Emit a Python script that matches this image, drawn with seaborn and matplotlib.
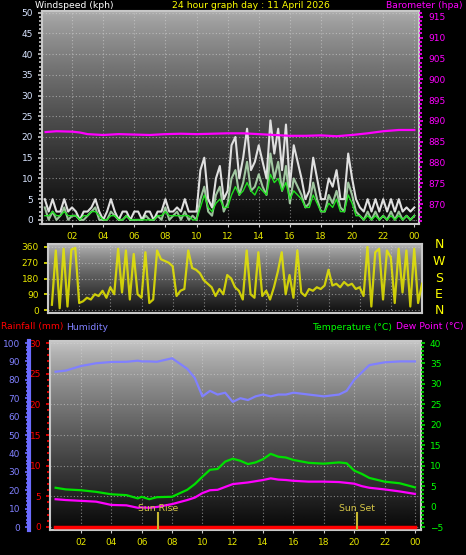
import numpy as np
import matplotlib
matplotlib.use("Agg")
import matplotlib.pyplot as plt
from matplotlib.ticker import MultipleLocator, FixedLocator
import seaborn as sns

# ---- data ----
# wind, every 15 minutes from 00:15 to 24:00
wind_hours = np.arange(1, 97) * 0.25
gust_kph = [5, 2, 5, 2, 2, 5, 2, 3,   2, 0, 2, 2, 3, 5, 2, 0,
            2, 5, 2, 0, 2, 2, 0, 2,   2, 0, 2, 2, 0, 2, 2, 5,
            2, 2, 3, 2, 5, 2, 2, 2,   12, 15, 5, 3, 10, 13, 5, 7,
            18, 20, 10, 15, 22, 12, 14, 18,   14, 10, 24, 16, 22, 12, 23, 8,
            18, 14, 10, 5, 7, 15, 10, 5,   5, 10, 8, 12, 5, 5, 16, 10,
            5, 3, 2, 5, 2, 5, 2, 5,   2, 5, 2, 5, 2, 3, 2, 3]
speed_kph = [3, 0, 2, 0, 1, 3, 0, 1,   1, 0, 0, 1, 2, 3, 0, 0,
             0, 2, 1, 0, 0, 1, 0, 0,   0, 0, 1, 0, 0, 1, 0, 3,
             0, 1, 2, 0, 2, 0, 1, 0,   5, 8, 2, 1, 6, 8, 2, 4,
             10, 12, 6, 9, 14, 7, 8, 11,   8, 6, 16, 10, 14, 7, 13, 4,
             10, 8, 6, 3, 4, 9, 5, 2,   2, 6, 4, 7, 3, 2, 9, 6,
             2, 1, 0, 2, 0, 2, 0, 1,   0, 2, 0, 2, 0, 1, 0, 1]
avg_kph = [1, 1, 2, 1, 1, 2, 1, 1,   1, 0, 1, 1, 2, 2, 1, 0,
           0, 1, 1, 0, 0, 1, 0, 0,   0, 0, 0, 0, 0, 1, 1, 2,
           1, 1, 1, 1, 1, 1, 0, 0,   3, 6, 3, 2, 4, 5, 3, 3,
           6, 8, 6, 7, 9, 7, 6, 8,   7, 6, 11, 9, 10, 7, 9, 5,
           7, 6, 5, 3, 3, 6, 4, 2,   2, 4, 3, 5, 2, 2, 6, 4,
           1, 1, 0, 1, 0, 1, 0, 1,   0, 1, 0, 1, 0, 1, 0, 1]
wind_dir = [30, 340, 10, 350,  20, 345, 355, 40,  50, 70, 60, 90,  80, 110, 70, 130,
            90, 350, 100, 340,  60, 320, 90, 70,  330, 40, 60, 340,  290, 280, 270, 250,
            80, 110, 120, 340,  240, 230, 210, 170,  150, 130, 80, 120,  90, 200, 180, 130,
            110, 60, 340, 90,  70, 330, 80, 110,  60, 130, 220, 330,  90, 200, 70, 340,
            100, 80, 120, 110,  130, 120, 140, 230,  140, 150, 130, 160,  140, 150, 120, 130,
            80, 360, 20, 330,  350, 60, 340, 300,  40, 350, 100, 340,  20, 350, 40, 150]

baro_hours = [0.3, 1, 2, 2.5, 3, 4, 5, 6, 7, 8, 9, 10, 11, 12, 13, 14, 15, 16, 17,
              18, 19, 20, 21, 22, 23, 24]
baro_hpa = [887.3, 887.5, 887.4, 887.2, 886.8, 886.6, 886.8, 886.7, 886.6, 886.8, 886.9,
            886.8, 886.9, 887.0, 887.0, 886.8, 886.6, 886.4, 886.4, 886.5, 886.3, 886.6,
            887.0, 887.5, 887.8, 887.8]

th_hours = [0.33, 1, 2, 3, 4, 5, 5.75, 6, 6.5, 7, 8, 9, 9.5, 10, 10.5, 11, 11.5, 12,
            12.5, 13, 13.5, 14, 14.5, 15, 15.5, 16, 17, 18, 19, 19.5, 20, 20.5, 21, 22, 23, 24]
temp_c = [4.6, 4.2, 4.0, 3.6, 3.0, 2.8, 2.0, 2.4, 1.8, 2.3, 2.4, 4.1, 5.5, 7.3, 9.0, 9.2,
          11.0, 11.7, 11.2, 10.4, 10.8, 11.6, 12.9, 12.2, 12.0, 11.4, 10.7, 10.5, 10.8, 10.6,
          8.8, 8.0, 7.0, 6.1, 5.7, 4.7]
dew_c = [1.8, 1.6, 1.4, 1.2, 0.4, 0.3, -0.3, -0.2, -0.3, -0.1, 0.6, 1.6, 2.2, 3.3, 4.0, 4.1,
         4.8, 5.5, 5.7, 5.9, 6.2, 6.5, 6.9, 6.6, 6.5, 6.3, 6.1, 6.1, 6.0, 5.8, 5.6, 5.0,
         4.6, 4.2, 3.7, 3.1]
humidity = [84.4, 85, 87.5, 89, 89.7, 89.8, 90.4, 90, 90, 89.8, 91.7, 86, 81, 71, 74, 72,
            73, 68, 70, 69, 71, 72, 71, 72, 72, 73, 72, 71, 72, 74, 80, 84, 88, 89.5, 90, 90]
rain_hours = [0.3, 24]
rain_mm = [0, 0]

sun_times = [7.05, 20.2]
sun_labels = ["Sun Rise", "Sun Set"]

hour_ticks = [2, 4, 6, 8, 10, 12, 14, 16, 18, 20, 22, 24]
hour_labels = ["02", "04", "06", "08", "10", "12", "14", "16", "18", "20", "22", "00"]
compass = ["N", "W", "S", "E", "N"]

# ---- layout ----
W, H = 466, 555
YEL = "#e8e800"
FS = 6.7
fig = plt.figure(figsize=(W / 100, H / 100), dpi=100, facecolor="black")


def box(l, t, r, b):
    return [l / W, 1 - b / H, (r - l) / W, (b - t) / H]


def gradient(ax, top, bottom):
    g = np.linspace(0, 1, 256) ** 0.8
    g = (top + (bottom - top) * g).reshape(-1, 1)
    ax.imshow(g, cmap="gray", vmin=0, vmax=1, aspect="auto", extent=[0, 1, 0, 1],
              transform=ax.transAxes, zorder=0)


def frame(ax):
    for s in ax.spines.values():
        s.set_color("#c8c8c8")
        s.set_linewidth(1.5)
    ax.grid(True, color="#d8d8d8", linestyle=(0, (1, 2)), linewidth=0.8, alpha=0.55)


# ---- wind speed / barometer ----
ax1 = fig.add_axes(box(42, 11, 419, 224))
gradient(ax1, 0.68, 0.03)
sns.lineplot(x=wind_hours, y=gust_kph, ax=ax1, color="#e0e0e0", linewidth=1.5, zorder=3)
sns.lineplot(x=wind_hours, y=speed_kph, ax=ax1, color="#c0f0c0", linewidth=1.5,
             alpha=0.8, zorder=4)
sns.lineplot(x=wind_hours, y=avg_kph, ax=ax1, color="#20e020", linewidth=1.0, zorder=5)
ax1.set_xlim(0.07, 24.3)
ax1.set_ylim(-1, 50.4)
ax1.yaxis.set_major_locator(MultipleLocator(5))
ax1.yaxis.set_minor_locator(MultipleLocator(1))
ax1.set_xticks(hour_ticks)
ax1.set_xticklabels(hour_labels)
ax1.tick_params(axis="x", colors="#c8c8c8", labelcolor=YEL, labelsize=6.5, length=2)
ax1.tick_params(axis="y", which="both", colors="#c8c8c8", labelcolor="#d8e4ff",
                labelsize=6.5, length=3, width=1.2)
ax1.tick_params(axis="y", which="minor", length=2)
frame(ax1)

axp = ax1.twinx()
sns.lineplot(x=baro_hours, y=baro_hpa, ax=axp, color="#ff00ff", linewidth=1.6, zorder=6)
axp.set_ylim(865.2, 916.4)
axp.yaxis.set_major_locator(FixedLocator(range(870, 916, 5)))
axp.yaxis.set_minor_locator(MultipleLocator(1))
axp.tick_params(axis="y", which="both", colors="#ff00ff", labelcolor="#ff00ff",
                labelsize=6.5, length=3, width=1.2)
axp.tick_params(axis="y", which="minor", length=2)
for s in axp.spines.values():
    s.set_visible(False)
axp.set_ylabel("")

fig.text(35 / W, 1 - 6 / H, "Windspeed (kph)", color="white", fontsize=FS, va="center")
fig.text(251 / W, 1 - 6 / H, "24 hour graph day : 11 April 2026", color="#ffff00",
         fontsize=FS, va="center", ha="center")
fig.text(463 / W, 1 - 6 / H, "Barometer (hpa)", color="#ff00ff", fontsize=FS,
         va="center", ha="right")

# ---- wind direction ----
ax2 = fig.add_axes(box(48, 244, 422, 313))
gradient(ax2, 0.72, 0.06)
sns.lineplot(x=wind_hours, y=wind_dir, ax=ax2, color=YEL, linewidth=1.6, alpha=0.85, zorder=3)
ax2.set_xlim(0, 24)
ax2.set_ylim(-17, 377)
ax2.set_yticks([0, 90, 180, 270, 360])
ax2.set_xticks(hour_ticks)
ax2.tick_params(axis="x", length=0, labelbottom=False)
ax2.tick_params(axis="y", colors=YEL, labelcolor=YEL, labelsize=6.5, length=3, width=1.2)
frame(ax2)
for i, c in enumerate(compass):
    fig.text(439 / W, 1 - (245 + i * 16.5) / H, c, color="#ffff00", fontsize=9,
             ha="center", va="center")

# ---- rain / humidity / temperature ----
fig.text(1 / W, 1 - 327 / H, "Rainfall (mm)", color="#ff0000", fontsize=FS, va="center")
fig.text(66 / W, 1 - 327 / H, "Humidity", color="#8080ff", fontsize=FS, va="center")
fig.text(392 / W, 1 - 327 / H, "Temperature (\u00b0C)", color="#00ff00", fontsize=FS,
         va="center", ha="right")
fig.text(464 / W, 1 - 327 / H, "Dew Point (\u00b0C)", color="#ff00ff", fontsize=FS,
         va="center", ha="right")

ax3 = fig.add_axes(box(50, 341, 421, 530))
gradient(ax3, 0.78, 0.03)
ax3.set_xlim(-0.04, 24.4)
ax3.set_ylim(-0.49, 30.33)
ax3.yaxis.set_major_locator(MultipleLocator(5))
ax3.yaxis.set_minor_locator(MultipleLocator(1))
ax3.set_xticks(hour_ticks)
ax3.set_xticklabels(hour_labels)
ax3.tick_params(axis="x", colors="#c8c8c8", labelcolor=YEL, labelsize=6.5, length=2)
ax3.tick_params(axis="y", which="both", colors="#ff0000", labelcolor="#ff0000",
                labelsize=6.5, length=3, width=1.2)
ax3.tick_params(axis="y", which="minor", length=2)
frame(ax3)
sns.lineplot(x=rain_hours, y=rain_mm, ax=ax3, color="#ff0000", linewidth=2.5, zorder=6)
ax3.set_ylabel("")

axh = ax3.twinx()
sns.lineplot(x=th_hours, y=humidity, ax=axh, color="#8080ff", linewidth=1.6, zorder=3)
axh.set_ylim(-1.63, 101.1)
axh.yaxis.set_ticks_position("left")
axh.yaxis.set_label_position("left")
axh.yaxis.set_major_locator(MultipleLocator(10))
axh.yaxis.set_minor_locator(MultipleLocator(2))
axh.spines["left"].set_position(("outward", 15))
axh.spines["left"].set_color("#6c6cff")
axh.spines["left"].set_linewidth(3)
for k in ["right", "top", "bottom"]:
    axh.spines[k].set_visible(False)
axh.tick_params(axis="y", which="both", colors="#6c6cff", labelcolor="#8080ff",
                labelsize=6.5, length=3, width=1.2)
axh.tick_params(axis="y", which="minor", length=2)
axh.set_ylabel("")

axt = ax3.twinx()
sns.lineplot(x=th_hours, y=temp_c, ax=axt, color="#00e000", linewidth=1.6, zorder=4)
sns.lineplot(x=th_hours, y=dew_c, ax=axt, color="#ff00ff", linewidth=1.6, zorder=5)
axt.set_ylim(-5.73, 40.5)
axt.yaxis.set_major_locator(MultipleLocator(5))
axt.yaxis.set_minor_locator(MultipleLocator(1))
axt.tick_params(axis="y", which="both", colors="#00e000", labelcolor="#00ff00",
                labelsize=6.5, length=3, width=1.2)
axt.tick_params(axis="y", which="minor", length=2)
for s in axt.spines.values():
    s.set_visible(False)
axt.set_ylabel("")
axt.vlines(sun_times, -5.7, -1.3, color="#c8b830", linewidth=1.5, zorder=6)
for t, lab in zip(sun_times, sun_labels):
    axt.text(t, -0.4, lab, color="#d8c848", fontsize=FS, ha="center", va="center", zorder=7)

fig.savefig("out.png", dpi=100, facecolor="black")
